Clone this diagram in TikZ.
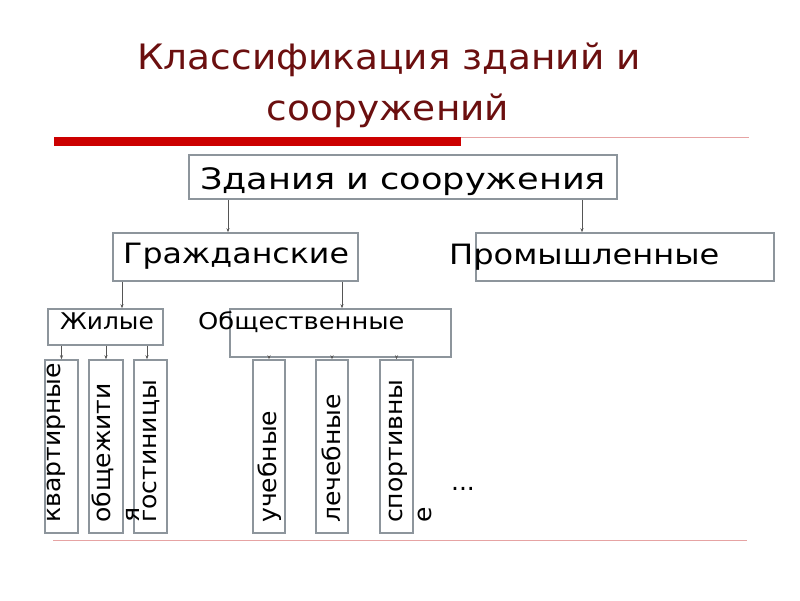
\documentclass[tikz,border=0pt]{standalone}
\usepackage{fontspec}
\setmainfont{DejaVu Sans}
\usetikzlibrary{arrows.meta}
\definecolor{titlered}{HTML}{6B0F0F}
\definecolor{barred}{HTML}{CC0000}
\definecolor{thinred}{HTML}{E6A3A3}
\definecolor{boxgray}{HTML}{8D959C}
\definecolor{arrgray}{HTML}{555555}
\newcommand{\stx}[2]{\scalebox{#1}[1]{#2}}
\tikzset{
  box/.style={draw=boxgray, line width=1.5pt, inner sep=0pt},
  arr/.style={draw=arrgray, line width=0.6pt, -{Stealth[length=4pt,width=3pt]}},
  lbl/.style={anchor=base west, inner sep=0pt, text=black},
  vlbl/.style={anchor=base west, inner sep=0pt, rotate=90, text=black, font=\fontsize{24}{28}\selectfont},
  ttl/.style={anchor=base, inner sep=0pt, text=titlered, font=\fontsize{35}{40}\selectfont},
}
\begin{document}
\begin{tikzpicture}[x=1pt,y=-1pt]
\useasboundingbox (0,0) rectangle (800,600);
% title
\node[ttl] (t1) at (389,69) {\stx{1.07}{Классификация зданий и}};
\node[ttl] (t2) at (388,120) {\stx{1.07}{сооружений}};
% rules
\fill[barred] (54,137) rectangle (461,146);
\draw[thinred, line width=0.8pt] (461,137) -- (749,137);
\draw[thinred, line width=0.8pt] (53,540) -- (747,540);
% boxes
\node[box, minimum width=428pt, minimum height=44pt] (top) at (403,177) {};
\node[box, minimum width=245pt, minimum height=48pt] (civ) at (235.5,257) {};
\node[box, minimum width=298pt, minimum height=48pt] (ind) at (625,257) {};
\node[box, minimum width=115pt, minimum height=36pt] (zh) at (105.5,327) {};
\node[box, minimum width=221pt, minimum height=48pt] (ob) at (340.5,333) {};
\node[box, minimum width=33pt, minimum height=173pt] (b1) at (61.5,446.5) {};
\node[box, minimum width=34pt, minimum height=173pt] (b2) at (106,446.5) {};
\node[box, minimum width=33pt, minimum height=173pt] (b3) at (150.5,446.5) {};
\node[box, minimum width=32pt, minimum height=173pt] (b4) at (269,446.5) {};
\node[box, minimum width=32pt, minimum height=173pt] (b5) at (332,446.5) {};
\node[box, minimum width=33pt, minimum height=173pt] (b6) at (396.5,446.5) {};
% texts
\node[lbl, font=\fontsize{29.5}{34}\selectfont] (ttop) at (200,189) {\stx{1.19}{Здания и сооружения}};
\node[lbl, font=\fontsize{28}{34}\selectfont] (tciv) at (123,263) {\stx{1.13}{Гражданские}};
\node[lbl, font=\fontsize{28}{34}\selectfont] (tind) at (449,264) {\stx{1.145}{Промышленные}};
\node[lbl, font=\fontsize{23}{28}\selectfont] (tzh) at (60,329) {\stx{1.08}{Жилые}};
\node[lbl, font=\fontsize{23}{28}\selectfont] (tob) at (198,329) {\stx{1.12}{Общественные}};
\node[vlbl] (l1) at (60,523) {\stx{1.045}{квартирные}};
\node[vlbl] (l2) at (110,523) {\stx{1.045}{общежити}};
\node[vlbl] (l2b) at (139,523) {\stx{1.045}{я}};
\node[vlbl] (l3) at (156,523) {\stx{1.045}{гостиницы}};
\node[vlbl] (l4) at (276,523) {\stx{1.045}{учебные}};
\node[vlbl] (l5) at (340,523) {\stx{1.045}{лечебные}};
\node[vlbl] (l6) at (402,523) {\stx{1.045}{спортивны}};
\node[vlbl] (l6b) at (431,523) {\stx{1.045}{е}};
\node[anchor=base, inner sep=0pt, font=\fontsize{25}{28}\selectfont] (dots) at (463,490) {...};
% connectors
\draw[arr] ([xshift=-175pt]top.south) -- ([xshift=-175pt]top.south |- civ.north);
\draw[arr] ([xshift=179pt]top.south) -- ([xshift=179pt]top.south |- ind.north);
\draw[arr] ([xshift=16.5pt]zh.north |- civ.south) -- ([xshift=16.5pt]zh.north);
\draw[arr] ([xshift=1.5pt]ob.north |- civ.south) -- ([xshift=1.5pt]ob.north);
\draw[arr] (zh.south -| b1.north) -- (b1.north);
\draw[arr] (zh.south -| b2.north) -- (b2.north);
\draw[arr] ([xshift=-3.5pt]b3.north |- zh.south) -- ([xshift=-3.5pt]b3.north);
\draw[arr] (ob.south -| b4.north) -- (b4.north);
\draw[arr] (ob.south -| b5.north) -- (b5.north);
\draw[arr] (ob.south -| b6.north) -- (b6.north);
\end{tikzpicture}
\end{document}
